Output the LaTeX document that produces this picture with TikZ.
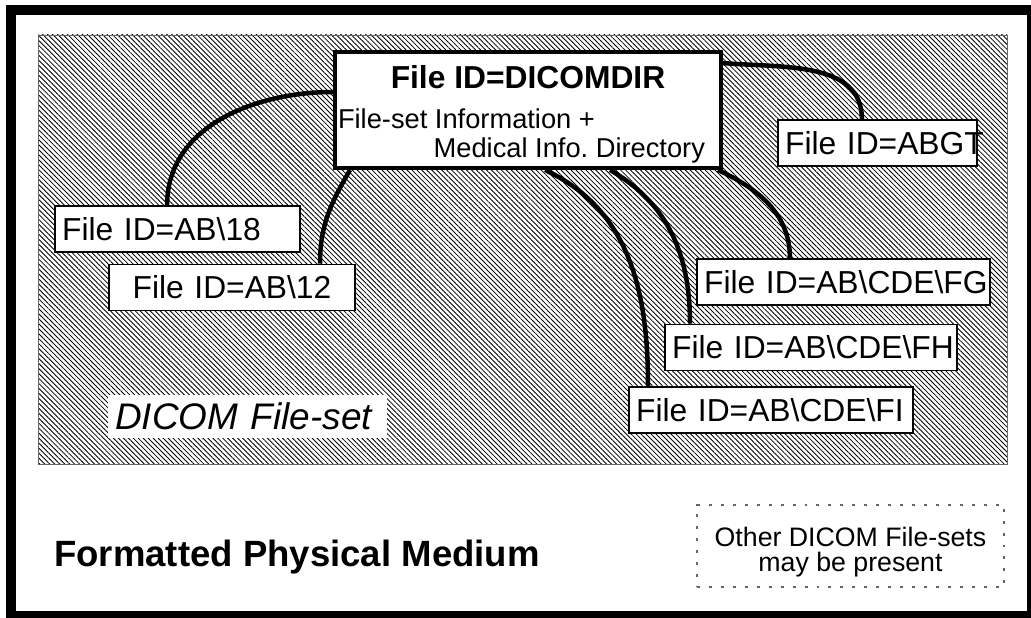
\documentclass[tikz,border=0pt]{standalone}
\usepackage{fontspec}
\setmainfont{Liberation Sans}
\usetikzlibrary{patterns.meta}

\begin{document}
\begin{tikzpicture}[filebox/.style={draw, fill=white, line width=1.3pt, minimum height=1.15cm, inner xsep=0.18cm, inner ysep=0pt, align=left, font=\fontsize{22.6}{26}\selectfont},
	link/.style={line width=3.2pt}]

\useasboundingbox (0,0) rectangle (25.775,-15.45);
\draw[line width=0.25cm] (0.275,-0.25) rectangle (25.8,-15.4);
\draw[draw=black!60, line width=0.6pt, pattern={Lines[angle=-45, distance=2.5pt, line width=0.6pt]}] (0.95,-0.875) rectangle (25.175,-11.6);

	\node[draw, fill=white, line width=2.8pt, minimum width=9.65cm, minimum height=2.9cm, inner sep=0pt] (dicomdir) at(13.2,-2.75) {\begin{minipage}{9.5cm}\vspace*{0.2cm}\centering{\fontsize{22.6}{26}\selectfont\bfseries File ID=DICOMDIR}\par\vspace{7.8pt}
	\fontsize{19.4}{20.6}\selectfont\raggedright File-set Information +\par
	\hfill Medical Info.\ Directory\hspace*{0.325cm}\par\end{minipage}};
	\node[filebox, text width=4.615cm] (abgt) at(21.9375,-3.575) {File~ID=ABGT};
	\node[filebox, text width=5.765cm] (ab18) at(4.4375,-5.725) {File~ID=AB\textbackslash 18};
	\node[filebox, text width=5.79cm, align=center] (ab12) at(5.8,-7.1875) {File~ID=AB\textbackslash 12};
	\node[filebox, text width=6.965cm] (fg) at(21.0875,-7.05) {File~ID=AB\textbackslash CDE\textbackslash FG};
	\node[filebox, text width=6.94cm] (fh) at(20.275,-8.6875) {File~ID=AB\textbackslash CDE\textbackslash FH};
	\node[filebox, text width=6.74cm] (fi) at(19.275,-10.25) {File~ID=AB\textbackslash CDE\textbackslash FI};

	\node[fill=white, minimum width=6.975cm, minimum height=1.075cm, inner xsep=0.18cm, inner ysep=0pt, text width=6.615cm, align=left, font=\fontsize{26.3}{30}\selectfont\itshape] (fileset) at(6.1875,-10.4125) {DICOM File-set};
	\node[anchor=base west, inner sep=0pt, font=\fontsize{26}{30}\selectfont\bfseries] (medium) at(1.35,-14.15) {Formatted Physical Medium};
	\node[draw=black!60, dash pattern=on 2.1pt off 6.4pt, line width=0.8pt, minimum width=7.675cm, minimum height=2.05cm, inner sep=0pt] (others) at(21.2625,-13.65) {\begin{minipage}{7.4cm}\vspace*{0.3cm}\centering\fontsize{19}{17.8}\selectfont Other DICOM File-sets\\ may be present\end{minipage}};

\draw[link] ([yshift=-0.325cm]dicomdir.north east) to[out=-5, in=90] ([xshift=-0.39cm]abgt.north);
\draw[link] ([yshift=0.45cm]dicomdir.west) to[out=180, in=90] ([xshift=-0.26cm]ab18.north);
\draw[link] ([xshift=0.425cm]dicomdir.south west) to[out=-120, in=90] ([xshift=2.2cm]ab12.north);
\draw[link] ([xshift=-0.125cm]dicomdir.south east) to[out=-25, in=90] ([xshift=-1.34cm]fg.north);
\draw[link] ([xshift=2.05cm]dicomdir.south) to[out=-30, in=90] ([xshift=-3.025cm]fh.north);
\draw[link] ([xshift=0.425cm]dicomdir.south) to[out=-25, in=90] ([xshift=-3.075cm]fi.north);
\end{tikzpicture}
\end{document}
